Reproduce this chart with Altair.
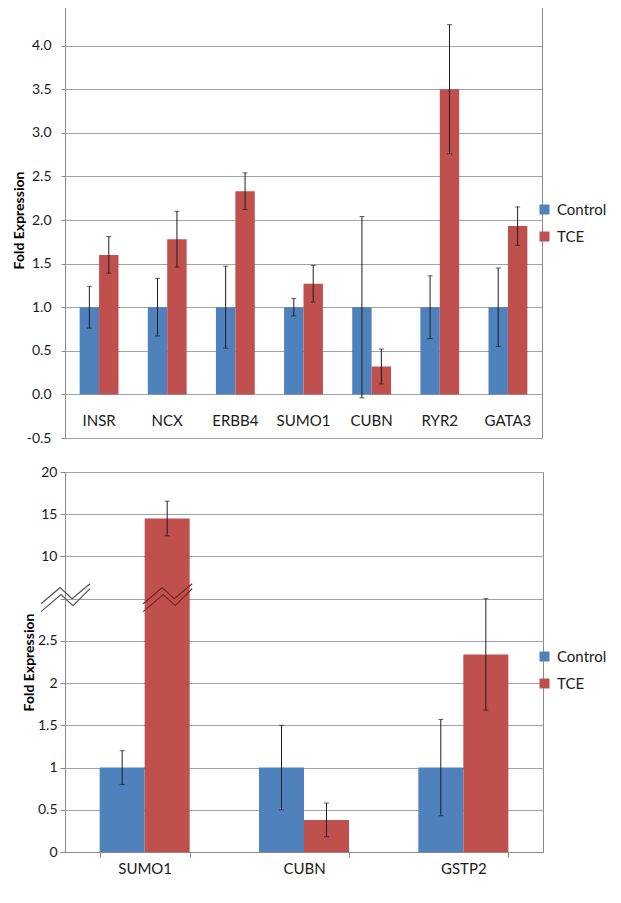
import altair as alt
import pandas as pd

# ---------------- data ----------------
groups = ["Control", "TCE"]
colors = ["#4F81BD", "#C0504D"]

genes_top = ["INSR", "NCX", "ERBB4", "SUMO1", "CUBN", "RYR2", "GATA3"]
control_top = [1.0, 1.0, 1.0, 1.0, 1.0, 1.0, 1.0]
control_err_top = [0.24, 0.33, 0.47, 0.10, 1.04, 0.36, 0.45]
tce_top = [1.60, 1.78, 2.33, 1.27, 0.32, 3.50, 1.93]
tce_err_top = [0.21, 0.32, 0.21, 0.21, 0.20, 0.74, 0.22]
top_ticks = [-0.5, 0.0, 0.5, 1.0, 1.5, 2.0, 2.5, 3.0, 3.5, 4.0, 4.5]

genes_bottom = ["SUMO1", "CUBN", "GSTP2"]
control_bottom = [1.0, 1.0, 1.0]
control_err_bottom = [0.20, 0.50, 0.57]
tce_bottom = [14.5, 0.38, 2.34]
tce_err_bottom = [2.05, 0.20, 0.66]
# broken axis: lower segment 0..3, upper segment 10..20
bottom_tick_labels = ["0", "0.5", "1", "1.5", "2", "2.5", "", "10", "15", "20"]
break_low, break_high = 3.0, 10.0


def to_slot(v):
    # position on the broken axis (one slot per gridline)
    if v <= break_low:
        return v * 2.0
    return 7.0 + (v - break_high) / 5.0


def build(genes, ctrl, ctrl_err, tce, tce_err):
    rows = []
    for g, c, ce, t, te in zip(genes, ctrl, ctrl_err, tce, tce_err):
        rows.append({"gene": g, "group": "Control", "value": c, "lo": c - ce, "hi": c + ce})
        rows.append({"gene": g, "group": "TCE", "value": t, "lo": t - te, "hi": t + te})
    return pd.DataFrame(rows)


df_top = build(genes_top, control_top, control_err_top, tce_top, tce_err_top)
df_bot = build(genes_bottom, control_bottom, control_err_bottom, tce_bottom, tce_err_bottom)
for col in ["value", "lo", "hi"]:
    df_bot[col + "_s"] = df_bot[col].apply(to_slot)

FONT = "Lato"
TXT = "#1a1a1a"
GRID = "#a3a3a3"
BOX = "#8a8a8a"
ERR = "#1e1e1e"

color_scale = alt.Scale(domain=groups, range=colors)


def legend(x, y):
    return alt.Legend(orient="none", legendX=x, legendY=y, title=None,
                      symbolType="square", symbolSize=100, symbolStrokeWidth=0,
                      labelFontSize=15, labelColor=TXT, rowPadding=11, labelOffset=5,
                      padding=0)


# ---------------- top chart ----------------
x_top = alt.X("gene:N", sort=genes_top, axis=None,
              scale=alt.Scale(paddingInner=0.43, paddingOuter=0.215))
xo = alt.XOffset("group:N", sort=groups)
y_top_scale = alt.Scale(domain=[-0.5, 4.5], nice=False, zero=False)

base_top = alt.Chart(df_top).encode(x=x_top, xOffset=xo)

bars_top = base_top.mark_bar().encode(
    y=alt.Y("value:Q", scale=y_top_scale,
            axis=alt.Axis(values=top_ticks, title="Fold Expression",
                          labelExpr="replace(format(datum.value, '.1f'), '\u2212', '-')",
                          labelFontSize=14, labelColor=TXT, labelPadding=10,
                          tickSize=4, tickColor=BOX, domainColor=BOX,
                          gridColor=GRID, titleFontSize=14, titleFontWeight="bold",
                          titleColor="#000", titlePadding=1,
                          minExtent=38, maxExtent=38)),
    y2=alt.datum(0),
    color=alt.Color("group:N", scale=color_scale, legend=legend(472, 200)),
)
rule_top = base_top.mark_rule(color=ERR, strokeWidth=1).encode(y="lo:Q", y2="hi:Q")
cap_hi_top = base_top.mark_tick(color=ERR, thickness=1, size=5).encode(y="hi:Q")
cap_lo_top = base_top.mark_tick(color=ERR, thickness=1, size=5).encode(y="lo:Q")
labels_top = alt.Chart(pd.DataFrame({"gene": genes_top})).mark_text(
    fontSize=15, color=TXT, baseline="middle"
).encode(x=x_top, y=alt.datum(-0.3), text="gene:N")

top = alt.layer(bars_top, rule_top, cap_hi_top, cap_lo_top, labels_top).properties(
    width=477, height=436)

# ---------------- bottom chart ----------------
x_bot = alt.X("gene:N", sort=genes_bottom,
              scale=alt.Scale(paddingInner=0.435, paddingOuter=0.2175),
              axis=alt.Axis(title=None, labelAngle=0, labelFontSize=15, labelColor=TXT,
                            tickBand="extent", tickSize=5, tickColor=BOX,
                            domainColor=BOX, labelPadding=4))
y_bot_scale = alt.Scale(domain=[0, len(bottom_tick_labels) - 1], nice=False, zero=False)
label_expr = "[" + ",".join("'%s'" % s for s in bottom_tick_labels) + "][datum.value]"

base_bot = alt.Chart(df_bot).encode(x=x_bot, xOffset=xo)
bars_bot = base_bot.mark_bar().encode(
    y=alt.Y("value_s:Q", scale=y_bot_scale,
            axis=alt.Axis(values=list(range(len(bottom_tick_labels))), title="Fold Expression",
                          labelExpr=label_expr, labelFontSize=14, labelColor=TXT,
                          labelPadding=3, tickSize=5, tickColor=BOX, domainColor=BOX,
                          gridColor=GRID, titleFontSize=14, titleFontWeight="bold",
                          titleColor="#000", titlePadding=2,
                          minExtent=27, maxExtent=27)),
    y2=alt.datum(0),
    color=alt.Color("group:N", scale=color_scale, legend=legend(472, 177)),
)
rule_bot = base_bot.mark_rule(color=ERR, strokeWidth=1).encode(y="lo_s:Q", y2="hi_s:Q")
cap_hi_bot = base_bot.mark_tick(color=ERR, thickness=1, size=5).encode(y="hi_s:Q")
cap_lo_bot = base_bot.mark_tick(color=ERR, thickness=1, size=5).encode(y="lo_s:Q")

zig = ("M-0.96,0.2L-0.2,-0.44L0.28,0L1,-0.6"
       "M-0.96,0.52L-0.16,-0.16L0.32,0.28L1,-0.4")
break_slot = to_slot(break_low)
brk_bar = alt.Chart(pd.DataFrame({"gene": ["SUMO1"], "group": ["TCE"], "slot": [break_slot]})).mark_point(
    shape=zig, size=2500, filled=False, color="#7a2826", strokeWidth=1.2, opacity=1
).encode(x=x_bot, xOffset=xo, y="slot:Q")
brk_axis = alt.Chart(pd.DataFrame({"slot": [break_slot]})).mark_point(
    shape=zig, size=2500, filled=False, color="#555555", strokeWidth=1.2, opacity=1
).encode(x=alt.value(0), y="slot:Q")

bottom = alt.layer(bars_bot, rule_bot, cap_hi_bot, cap_lo_bot, brk_bar, brk_axis).properties(
    width=478, height=380)

chart = alt.concat(top, bottom, columns=1, spacing=18, align="none").resolve_scale(
    color="independent", x="independent", y="independent", xOffset="independent"
).resolve_legend(color="independent").properties(
    padding={"left": 3, "top": -14, "right": 0, "bottom": 0}
).configure(font=FONT).configure_view(stroke=BOX, strokeWidth=1)

chart.save("out.html", embed_options={"renderer": "svg", "actions": False})
